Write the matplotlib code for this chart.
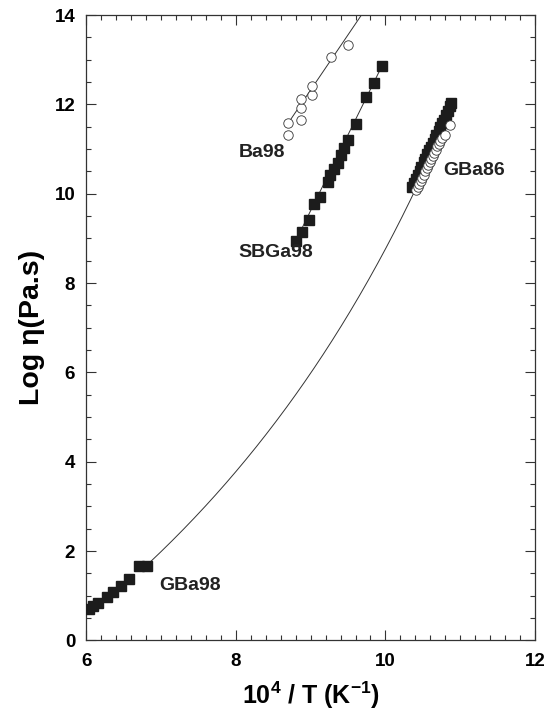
import numpy as np
import matplotlib
matplotlib.use("Agg")
import matplotlib.pyplot as plt
from matplotlib.ticker import MultipleLocator

plt.rcParams['font.family'] = ['Liberation Sans', 'DejaVu Sans']
plt.rcParams['font.weight'] = 'bold'
plt.rcParams['mathtext.default'] = 'regular'

# ---- data (x = 10^4/T, y = log viscosity) ----
gba98_x = [6.03, 6.09, 6.15, 6.28, 6.36, 6.47, 6.57, 6.71, 6.81]
gba98_y = [0.70, 0.77, 0.83, 0.98, 1.09, 1.22, 1.37, 1.67, 1.67]

sbga98_x = [8.80, 8.88, 8.98, 9.05, 9.13, 9.23, 9.26, 9.31, 9.37, 9.41, 9.45, 9.50, 9.60, 9.74, 9.85, 9.96]
sbga98_y = [8.94, 9.15, 9.41, 9.77, 9.93, 10.26, 10.41, 10.56, 10.68, 10.86, 11.03, 11.21, 11.57, 12.17, 12.47, 12.87]

ba98_x = [8.70, 8.70, 8.87, 8.87, 8.87, 9.02, 9.02, 9.27, 9.50]
ba98_y = [11.31, 11.59, 11.65, 11.91, 12.12, 12.20, 12.41, 13.07, 13.33]

gba86_sq_x = [10.35, 10.38, 10.41, 10.43, 10.46, 10.48, 10.51, 10.53, 10.56, 10.58, 10.61,
              10.63, 10.66, 10.68, 10.71, 10.73, 10.76, 10.78, 10.81, 10.83, 10.86, 10.87]
gba86_sq_y = [10.15, 10.25, 10.33, 10.42, 10.52, 10.60, 10.70, 10.78, 10.88, 10.97, 11.05,
              11.14, 11.23, 11.31, 11.40, 11.49, 11.58, 11.66, 11.77, 11.86, 11.97, 12.04]

gba86_ci_x = [10.41, 10.43, 10.45, 10.47, 10.49, 10.51, 10.53, 10.55, 10.57, 10.59,
              10.61, 10.63, 10.65, 10.67, 10.69, 10.71, 10.73, 10.75, 10.79, 10.86]
gba86_ci_y = [10.08, 10.15, 10.22, 10.29, 10.36, 10.43, 10.50, 10.57, 10.64, 10.71,
              10.78, 10.85, 10.92, 10.99, 11.06, 11.12, 11.19, 11.25, 11.31, 11.55]

# VFT fit: log eta = A + B / (T - T0), T = 1e4 / x
vft_A, vft_B, vft_T0 = -4.865, 5911.0, 566.3
vft_xrange = (6.85, 10.90)

# linear fits y = a + b*x over [x0, x1]
ba98_fit = (-9.906, 2.47, 8.69, 9.75)
sbga98_fit = (-20.95, 3.397, 8.80, 9.96)

labels = {"Ba98": (8.35, 10.93), "SBGa98": (8.53, 8.69), "GBa86": (11.18, 10.53), "GBa98": (7.39, 1.22)}

# ---- figure ----
fig = plt.figure(figsize=(5.57, 7.18), dpi=100)
ax = fig.add_axes([0.155, 0.108, 0.8055, 0.871])

ink = '#1c1c1c'

xv = np.linspace(vft_xrange[0], vft_xrange[1], 300)
ax.plot(xv, vft_A + vft_B / (1e4 / xv - vft_T0), color='#333333', lw=0.7, zorder=1)

for a, b, x0, x1 in (ba98_fit, sbga98_fit):
    xl = np.array([x0, x1])
    ax.plot(xl, a + b * xl, color='#333333', lw=0.7, zorder=1)

ax.plot(gba98_x, gba98_y, 's', ms=7, color=ink, mec=ink, zorder=3)
ax.plot(sbga98_x, sbga98_y, 's', ms=7, color=ink, mec=ink, zorder=3)
ax.plot(gba86_sq_x, gba86_sq_y, 's', ms=7, color=ink, mec=ink, zorder=3)
ax.plot(ba98_x, ba98_y, 'o', ms=6.8, mfc='white', mec='#333333', mew=0.6, zorder=3)
ax.plot(gba86_ci_x, gba86_ci_y, 'o', ms=6.8, mfc='white', mec='#333333', mew=0.6, zorder=4)

for t, (x, y) in labels.items():
    ax.text(x, y, t, ha='center', va='center', fontsize=14, fontweight='bold', color='#222222')

ax.set_xlim(6, 12)
ax.set_ylim(0, 14)
ax.xaxis.set_major_locator(MultipleLocator(2))
ax.xaxis.set_minor_locator(MultipleLocator(0.2))
ax.yaxis.set_major_locator(MultipleLocator(2))
ax.yaxis.set_minor_locator(MultipleLocator(0.5))
ax.tick_params(which='both', direction='in', top=True, right=True, width=0.8, color='#333333')
ax.tick_params(which='major', length=7, labelsize=13.5, pad=9)
ax.tick_params(which='minor', length=3.5)
ax.tick_params(axis='y', which='major', pad=8)
for lab in ax.get_xticklabels() + ax.get_yticklabels():
    lab.set_fontweight('bold')
for s in ax.spines.values():
    s.set_linewidth(0.9)
    s.set_color('#333333')

ax.set_xlabel('10$^4$ / T (K$^{-1}$)', fontsize=18, fontweight='bold', labelpad=7)
ax.set_ylabel('Log η(Pa.s)', fontsize=20.5, fontweight='bold', labelpad=7)

fig.savefig('out.png', dpi=100)
